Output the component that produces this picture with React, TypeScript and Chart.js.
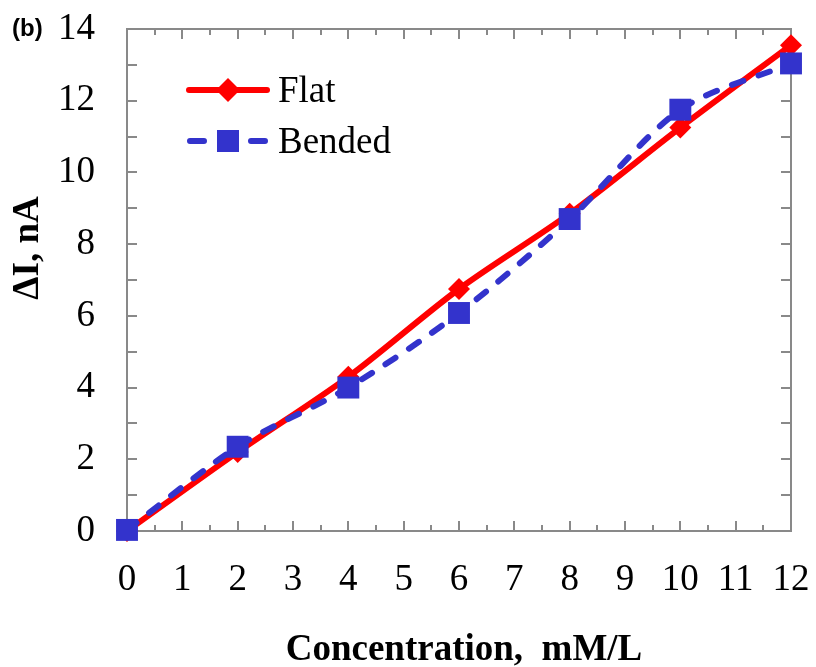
import React, { useEffect, useRef } from "react";
import { Chart, registerables } from "chart.js";

Chart.register(...registerables);

const concentration = [0, 2, 4, 6, 8, 10, 12];
const flatValues = [0, 2.2, 4.3, 6.75, 8.85, 11.25, 13.55];
const bendedValues = [0.03, 2.35, 4.0, 6.08, 8.7, 11.75, 13.04];
const seriesNames = ["Flat", "Bended"];
const xTitle = "Concentration,  mM/L";
const yTitle = "ΔI, nA";
const panelLabel = "(b)";

const RED = "#FF0000";
const BLUE = "#3333CC";
const AXIS = "#898989";
const SERIF = "'Liberation Serif', 'Times New Roman', serif";

const framePlugin = {
  id: "frame",
  beforeDatasetsDraw(chart: any) {
    const { ctx, chartArea } = chart;
    const xs = chart.scales.x;
    const ys = chart.scales.y;
    const { left, right, top, bottom } = chartArea;
    ctx.save();
    ctx.strokeStyle = AXIS;
    ctx.lineWidth = 2;
    ctx.beginPath();
    ctx.rect(left, top, right - left, bottom - top);
    ctx.stroke();
    ctx.beginPath();
    for (let v = xs.min; v <= xs.max + 1e-9; v += 0.5) {
      const px = Math.round(xs.getPixelForValue(v));
      const len = Math.abs(v - Math.round(v)) < 1e-9 ? 10 : 6;
      ctx.moveTo(px, bottom);
      ctx.lineTo(px, bottom - len);
      ctx.moveTo(px, top);
      ctx.lineTo(px, top + len);
    }
    for (let v = ys.min; v <= ys.max + 1e-9; v += 1) {
      const py = Math.round(ys.getPixelForValue(v));
      ctx.moveTo(left, py);
      ctx.lineTo(left + 10, py);
      ctx.moveTo(right, py);
      ctx.lineTo(right - 10, py);
    }
    ctx.stroke();
    ctx.restore();
  },
  afterDraw(chart: any) {
    const { ctx, chartArea } = chart;
    ctx.save();
    // legend
    const lx0 = 186, lx1 = 270, cx = 228;
    const y1 = 90, y2 = 141;
    ctx.lineCap = "round";
    ctx.strokeStyle = RED;
    ctx.lineWidth = 6;
    ctx.beginPath();
    ctx.moveTo(lx0 + 3, y1);
    ctx.lineTo(lx1 - 3, y1);
    ctx.stroke();
    ctx.fillStyle = RED;
    ctx.beginPath();
    ctx.moveTo(cx, y1 - 12);
    ctx.lineTo(cx + 12, y1);
    ctx.lineTo(cx, y1 + 12);
    ctx.lineTo(cx - 12, y1);
    ctx.closePath();
    ctx.fill();
    ctx.strokeStyle = BLUE;
    ctx.beginPath();
    ctx.moveTo(lx0 + 4, y2);
    ctx.lineTo(lx0 + 18, y2);
    ctx.moveTo(lx1 - 19, y2);
    ctx.lineTo(lx1 - 5, y2);
    ctx.stroke();
    ctx.fillStyle = BLUE;
    ctx.fillRect(cx - 11, y2 - 11, 22, 22);
    ctx.fillStyle = "#000";
    ctx.font = `37px ${SERIF}`;
    ctx.textAlign = "left";
    ctx.textBaseline = "middle";
    ctx.fillText(seriesNames[0], 278, y1 + 2);
    ctx.fillText(seriesNames[1], 278, y2 + 2);
    // axis titles
    ctx.font = `bold 37px ${SERIF}`;
    ctx.textAlign = "center";
    ctx.textBaseline = "middle";
    ctx.fillText(xTitle, (chartArea.left + chartArea.right) / 2 + 5, 650);
    ctx.save();
    ctx.translate(28, 248);
    ctx.rotate(-Math.PI / 2);
    ctx.fillText(yTitle, 0, 0);
    ctx.restore();
    // panel label
    ctx.font = `bold 24px 'Liberation Sans', Arial, sans-serif`;
    ctx.textAlign = "left";
    ctx.textBaseline = "alphabetic";
    ctx.fillText(panelLabel, 12, 36);
    ctx.restore();
  },
};

const noPad = (s: any) => {
  s.paddingTop = 0;
  s.paddingBottom = 0;
  s.paddingLeft = 0;
  s.paddingRight = 0;
};

export default function App() {
  const canvasRef = useRef<HTMLCanvasElement | null>(null);

  useEffect(() => {
    if (!canvasRef.current) return;
    const chart = new Chart(canvasRef.current, {
      type: "line",
      data: {
        datasets: [
          {
            label: seriesNames[0],
            data: concentration.map((x, i) => ({ x, y: flatValues[i] })),
            borderColor: RED,
            backgroundColor: RED,
            borderWidth: 6,
            pointStyle: "rectRot",
            pointRadius: 11,
            pointHoverRadius: 11,
            pointBorderWidth: 0,
            tension: 0.3,
            clip: false,
            order: 1,
          },
          {
            label: seriesNames[1],
            data: concentration.map((x, i) => ({ x, y: bendedValues[i] })),
            borderColor: BLUE,
            backgroundColor: BLUE,
            borderWidth: 6,
            borderDash: [12, 16],
            borderCapStyle: "round",
            pointStyle: "rect",
            pointRadius: 15.5,
            pointHoverRadius: 15.5,
            pointBorderWidth: 0,
            tension: 0.3,
            clip: false,
            order: 0,
          },
        ],
      },
      options: {
        responsive: true,
        maintainAspectRatio: false,
        animation: false,
        layout: { padding: { top: 29, right: 25, left: 0, bottom: 0 } },
        plugins: { legend: { display: false }, tooltip: { enabled: false } },
        scales: {
          x: {
            type: "linear",
            min: 0,
            max: 12,
            ticks: {
              stepSize: 1,
              color: "#000",
              font: { family: SERIF, size: 37 },
              padding: 27,
              maxRotation: 0,
              autoSkip: false,
            },
            grid: { display: false, drawTicks: false },
            border: { display: false },
            afterFit: (s: any) => {
              s.height = 136;
              noPad(s);
            },
          },
          y: {
            type: "linear",
            min: 0,
            max: 14,
            ticks: {
              stepSize: 2,
              color: "#000",
              font: { family: SERIF, size: 37 },
              padding: 32,
            },
            grid: { display: false, drawTicks: false },
            border: { display: false },
            afterFit: (s: any) => {
              s.width = 127;
              noPad(s);
            },
          },
        },
      },
      plugins: [framePlugin],
    });
    return () => chart.destroy();
  }, []);

  return (
    <div style={{ position: "fixed", left: 0, top: 0, width: 816, height: 667, background: "#fff" }}>
      <canvas ref={canvasRef} />
    </div>
  );
}
